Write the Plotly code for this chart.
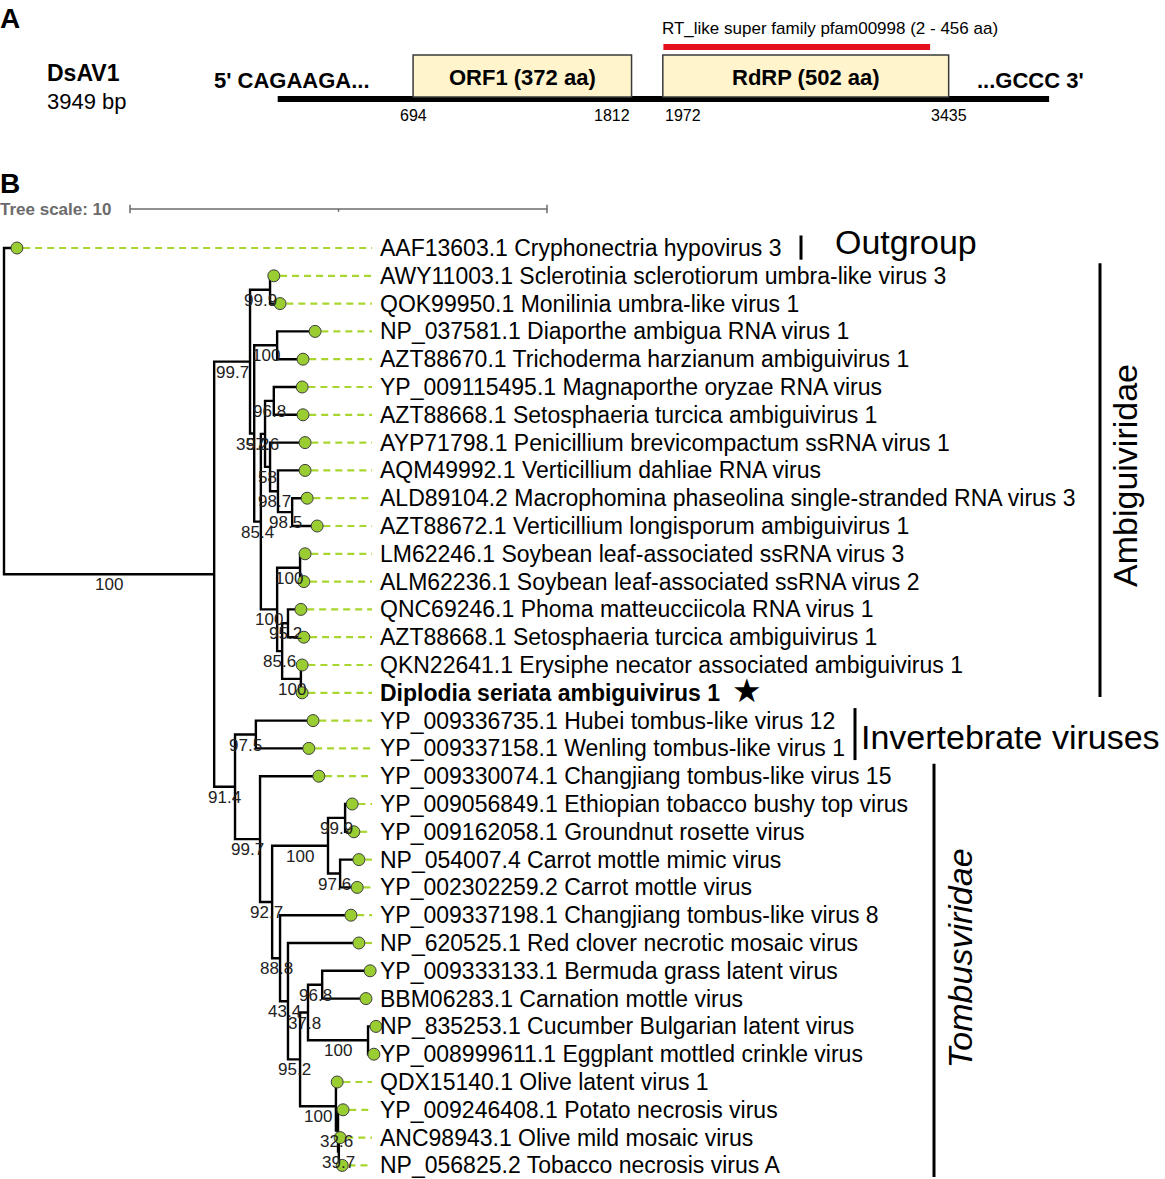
import plotly.graph_objects as go

# ---------------- B: phylogeny ----------------
# Newick: branch lengths in tree-scale units, internal labels = bootstrap support
newick = (
    "(t0:0.31,"
    "(("
    "(t1:0.09,t2:0.24)99.9:0.48,"
    "((t3:0.91,t4:0.62)100:0.55,"
    "(((t5:0.68,t6:0.70)96.8:0.21,(t7:0.84,(t8:0.65,(t9:0.36,t10:0.60)98.5:0.34)98.7:0.19)58:0.12)97.6:0.10,"
    "((t11:0.12,t12:0.09)100:0.55,((t13:0.31,t14:0.38)95.2:0.14,(t15:0.03,t16:0.03)100:0.45)85.6:0.12)100:0.39"
    ")85.4:0.16)35.2:0.10)99.7:0.86,"
    "((t17:1.37,t18:1.27)97.5:0.50,"
    "(t19:1.41,"
    "(((t20:0.17,t21:0.21)99.9:0.41,(t22:0.45,t23:0.41)97.6:0.29)100:1.34,"
    "(t24:1.70,(t25:1.70,"
    "(((t26:1.15,t27:1.05)96.8:0.34,(t28:0.19,t29:0.14)100:1.44)37.8:0.19,"
    "(t30:0.03,(t31:0.12,(t32:0.03,t33:0.08)39.7:0.02)32.6:0.05)100:0.86"
    ")95.2:0.29)43.4:0.19)88.8:0.19)92.7:0.29)99.7:0.60)91.4:0.50)100:5.04);"
)

accessions = [
    "AAF13603.1", "AWY11003.1", "QOK99950.1", "NP_037581.1", "AZT88670.1",
    "YP_009115495.1", "AZT88668.1", "AYP71798.1", "AQM49992.1", "ALD89104.2",
    "AZT88672.1", "LM62246.1", "ALM62236.1", "QNC69246.1", "AZT88668.1",
    "QKN22641.1", "", "YP_009336735.1", "YP_009337158.1", "YP_009330074.1",
    "YP_009056849.1", "YP_009162058.1", "NP_054007.4", "YP_002302259.2",
    "YP_009337198.1", "NP_620525.1", "YP_009333133.1", "BBM06283.1",
    "NP_835253.1", "YP_008999611.1", "QDX15140.1", "YP_009246408.1",
    "ANC98943.1", "NP_056825.2",
]
species = [
    "Cryphonectria hypovirus 3",
    "Sclerotinia sclerotiorum umbra-like virus 3",
    "Monilinia umbra-like virus 1",
    "Diaporthe ambigua RNA virus 1",
    "Trichoderma harzianum ambiguivirus 1",
    "Magnaporthe oryzae RNA virus",
    "Setosphaeria turcica ambiguivirus 1",
    "Penicillium brevicompactum ssRNA virus 1",
    "Verticillium dahliae RNA virus",
    "Macrophomina phaseolina single-stranded RNA virus 3",
    "Verticillium longisporum ambiguivirus 1",
    "Soybean leaf-associated ssRNA virus 3",
    "Soybean leaf-associated ssRNA virus 2",
    "Phoma matteucciicola RNA virus 1",
    "Setosphaeria turcica ambiguivirus 1",
    "Erysiphe necator associated ambiguivirus 1",
    "Diplodia seriata ambiguivirus 1",
    "Hubei tombus-like virus 12",
    "Wenling tombus-like virus 1",
    "Changjiang tombus-like virus 15",
    "Ethiopian tobacco bushy top virus",
    "Groundnut rosette virus",
    "Carrot mottle mimic virus",
    "Carrot mottle virus",
    "Changjiang tombus-like virus 8",
    "Red clover necrotic mosaic virus",
    "Bermuda grass latent virus",
    "Carnation mottle virus",
    "Cucumber Bulgarian latent virus",
    "Eggplant mottled crinkle virus",
    "Olive latent virus 1",
    "Potato necrosis virus",
    "Olive mild mosaic virus",
    "Tobacco necrosis virus A",
]
query_leaf = 16

clade_names = ["Outgroup", "Ambiguiviridae", "Invertebrate viruses", "Tombusviridae"]
clade_first = [0, 1, 17, 19]
clade_last = [0, 16, 18, 33]
tree_scale = 10

# ---------------- A: genome map ----------------
virus_name = "DsAV1"
genome_len = 3949
orf_labels = ["ORF1 (372 aa)", "RdRP (502 aa)"]
orf_start = [694, 1972]
orf_end = [1812, 3435]
domain_aa = [2, 456]
domain_label = "RT_like super family pfam00998 (2 - 456 aa)"
end5 = "5' CAGAAGA..."
end3 = "...GCCC 3'"

# ---------------- page geometry ----------------
W, H = 1165, 1179
PPU, ROOT_PX = 41.7, 4          # px per tree unit, root position
ROW, TOP_PX = 27.8, 248         # px per leaf row, first leaf row
NT0_PX, PX_NT = 277.5, 0.19539  # genome map scale
FONT = "Liberation Sans, Arial, Helvetica, sans-serif"


def parse(s):
    s = s.replace(" ", "").rstrip(";")
    pos = 0

    def node():
        nonlocal pos
        n = {"children": [], "name": "", "len": 0.0}
        if s[pos] == "(":
            pos += 1
            n["children"].append(node())
            while s[pos] == ",":
                pos += 1
                n["children"].append(node())
            pos += 1
        st = pos
        while pos < len(s) and s[pos] not in ":,)":
            pos += 1
        n["name"] = s[st:pos]
        if pos < len(s) and s[pos] == ":":
            pos += 1
            st = pos
            while pos < len(s) and s[pos] not in ",)":
                pos += 1
            n["len"] = float(s[st:pos])
        return n

    return node()


def place(n, x0, parent_x):
    n["x"] = x0 + n["len"]
    n["px"] = parent_x
    if n["children"]:
        for c in n["children"]:
            place(c, n["x"], n["x"])
        n["y"] = (n["children"][0]["y"] + n["children"][-1]["y"]) / 2
    else:
        n["y"] = int(n["name"][1:])


def walk(n):
    yield n
    for c in n["children"]:
        yield from walk(c)


root = parse(newick)
place(root, 0.0, None)
nodes = list(walk(root))
leaves = sorted([n for n in nodes if not n["children"]], key=lambda n: n["y"])
inner = [n for n in nodes if n["children"]]

label_x = (378 - ROOT_PX) / PPU
dash_end = (372 - ROOT_PX) / PPU

fig = go.Figure()

# dashed leaf connectors
dx, dy = [], []
for lf in leaves:
    if lf["x"] + 0.15 < dash_end:
        dx += [lf["x"] + 0.15, dash_end, None]
        dy += [lf["y"], lf["y"], None]
fig.add_trace(go.Scatter(x=dx, y=dy, mode="lines", hoverinfo="skip",
                         line=dict(color="#a9d62e", width=2.2, dash="7px,5px")))

# rectangular branches
bx, by = [], []
for n in inner:
    a, b = n["children"][0], n["children"][-1]
    bx += [a["x"], n["x"], n["x"], b["x"], None]
    by += [a["y"], a["y"], b["y"], b["y"], None]
fig.add_trace(go.Scatter(x=bx, y=by, mode="lines", hoverinfo="skip",
                         line=dict(color="black", width=2.4)))

# leaf dots
fig.add_trace(go.Scatter(x=[lf["x"] for lf in leaves], y=[lf["y"] for lf in leaves],
                         mode="markers", hoverinfo="skip",
                         marker=dict(size=12, color="#9acd32",
                                     line=dict(color="#3d3d3d", width=1))))

ann = []
# leaf labels
for i, lf in enumerate(leaves):
    if i == query_leaf:
        txt = "<b>" + species[i] + "</b>"
    else:
        txt = accessions[i] + " " + species[i]
    ann.append(dict(x=label_x, y=lf["y"], text=txt, xanchor="left", yanchor="middle",
                    font=dict(size=23, color="black", family=FONT)))
ann.append(dict(x=730, y=leaves[query_leaf]["y"], xref="x2", yref="y", yshift=2,
                text="★", xanchor="left", yanchor="middle",
                font=dict(size=33, color="black", family="DejaVu Sans")))

# bootstrap values at branch midpoints
for n in inner:
    if n["name"] and n["px"] is not None:
        ann.append(dict(x=(n["px"] + n["x"]) / 2, y=n["y"] + 0.38, text=n["name"],
                        xanchor="center", yanchor="middle",
                        font=dict(size=17, color="#222", family=FONT)))

shapes = []
# clade bars and labels
bar_px = [801, 1100, 855, 934]
for k, name in enumerate(clade_names):
    y0 = clade_first[k] - 0.45
    y1 = clade_last[k] + 0.42
    if k == 1:
        y1 = clade_last[k] + 0.15
    shapes.append(dict(type="line", xref="x2", yref="y", x0=bar_px[k], x1=bar_px[k],
                       y0=y0, y1=y1, line=dict(color="black", width=3)))
mid = [(clade_first[k] + clade_last[k]) / 2 for k in range(4)]
ann.append(dict(x=833, y=mid[0] - 0.2, xref="x2", yref="y", text=clade_names[0],
                xanchor="left", yanchor="middle", font=dict(size=34, family=FONT, color="black")))
ann.append(dict(x=859, y=mid[2] + 0.1, xref="x2", yref="y", text=clade_names[2],
                xanchor="left", yanchor="middle", font=dict(size=34, family=FONT, color="black")))
ann.append(dict(x=1125, y=mid[1] - 0.3, xref="x2", yref="y", text=clade_names[1],
                textangle=-90, xanchor="center", yanchor="middle",
                font=dict(size=34, family=FONT, color="black")))
ann.append(dict(x=960, y=mid[3] - 0.45, xref="x2", yref="y", text="<i>" + clade_names[3] + "</i>",
                textangle=-90, xanchor="center", yanchor="middle",
                font=dict(size=34, family=FONT, color="black")))

# tree scale
sx0 = (130 - ROOT_PX) / PPU
sy = (209 - TOP_PX) / ROW
gray = "#6b6b6b"
shapes.append(dict(type="line", xref="x", yref="y", x0=sx0, x1=sx0 + tree_scale, y0=sy, y1=sy,
                   line=dict(color=gray, width=1.5)))
for xx, h in [(sx0, 0.15), (sx0 + tree_scale, 0.15)]:
    shapes.append(dict(type="line", xref="x", yref="y", x0=xx, x1=xx, y0=sy - h, y1=sy + h,
                       line=dict(color=gray, width=1.5)))
shapes.append(dict(type="line", xref="x", yref="y", x0=sx0 + tree_scale / 2, x1=sx0 + tree_scale / 2,
                   y0=sy, y1=sy + 0.1, line=dict(color=gray, width=1.5)))
ann.append(dict(x=0, y=209, xref="x2", yref="y2", xshift=-2, text="<b>Tree scale: %d</b>" % tree_scale,
                xanchor="left", yanchor="middle", font=dict(size=17, color=gray, family=FONT)))

# panel letters
for letter, yy in [("A", 18), ("B", 183)]:
    ann.append(dict(x=0, y=yy, xref="x2", yref="y2", xshift=-2, text="<b>%s</b>" % letter,
                    xanchor="left", yanchor="middle", font=dict(size=28, color="black", family=FONT)))

# ---------------- genome map (x3 in nt) ----------------
shapes.append(dict(type="line", xref="x3", yref="y2", x0=1, x1=genome_len, y0=99, y1=99,
                   line=dict(color="black", width=6)))
for k in range(len(orf_labels)):
    shapes.append(dict(type="rect", xref="x3", yref="y2", x0=orf_start[k], x1=orf_end[k],
                       y0=55, y1=97, fillcolor="#fff4cc", line=dict(color="#3a3a3a", width=1.5)))
    ann.append(dict(x=(orf_start[k] + orf_end[k]) / 2, y=77, xref="x3", yref="y2",
                    text="<b>%s</b>" % orf_labels[k], xanchor="center", yanchor="middle",
                    font=dict(size=22, color="black", family=FONT)))
d0 = orf_start[1] + (domain_aa[0] - 1) * 3
d1 = orf_start[1] + domain_aa[1] * 3
shapes.append(dict(type="line", xref="x3", yref="y2", x0=d0, x1=d1, y0=47, y1=47,
                   line=dict(color="#e3101b", width=6)))
ann.append(dict(x=830, y=28, xref="x2", yref="y2", text=domain_label, xanchor="center",
                yanchor="middle", font=dict(size=17, color="black", family=FONT)))

pos_anchor = ["center", "right", "left", "center"]
pos_vals = [orf_start[0], orf_end[0], orf_start[1], orf_end[1]]
for v, anc in zip(pos_vals, pos_anchor):
    ann.append(dict(x=v, y=115, xref="x3", yref="y2", text=str(v), xanchor=anc,
                    yanchor="middle", font=dict(size=16, color="black", family=FONT)))

ann.append(dict(x=45, y=73, xref="x2", yref="y2", text="<b>%s</b>" % virus_name,
                xanchor="left", yanchor="middle", font=dict(size=23, color="black", family=FONT)))
ann.append(dict(x=45, y=101, xref="x2", yref="y2", text="%d bp" % genome_len,
                xanchor="left", yanchor="middle", font=dict(size=22, color="black", family=FONT)))
ann.append(dict(x=372, y=80, xref="x2", yref="y2", text="<b>%s</b>" % end5,
                xanchor="right", yanchor="middle", font=dict(size=22, color="black", family=FONT)))
ann.append(dict(x=975, y=80, xref="x2", yref="y2", text="<b>%s</b>" % end3,
                xanchor="left", yanchor="middle", font=dict(size=22, color="black", family=FONT)))

for a in ann:
    a.setdefault("showarrow", False)

# invisible traces to register the overlay axes
fig.add_trace(go.Scatter(x=[0], y=[0], xaxis="x2", yaxis="y2", mode="markers",
                         marker=dict(opacity=0), hoverinfo="skip"))
fig.add_trace(go.Scatter(x=[1], y=[0], xaxis="x3", yaxis="y2", mode="markers",
                         marker=dict(opacity=0), hoverinfo="skip"))

hidden = dict(visible=False, showgrid=False, zeroline=False, fixedrange=True)
fig.update_layout(
    width=W, height=H, margin=dict(l=0, r=0, t=0, b=0),
    paper_bgcolor="white", plot_bgcolor="white", showlegend=False,
    font=dict(family=FONT),
    xaxis=dict(range=[-ROOT_PX / PPU, (W - ROOT_PX) / PPU], domain=[0, 1], **hidden),
    yaxis=dict(range=[(H - TOP_PX) / ROW, -TOP_PX / ROW], domain=[0, 1], **hidden),
    xaxis2=dict(range=[0, W], overlaying="x", anchor="y2", **hidden),
    yaxis2=dict(range=[H, 0], overlaying="y", anchor="x2", **hidden),
    xaxis3=dict(range=[-NT0_PX / PX_NT, (W - NT0_PX) / PX_NT], overlaying="x", anchor="y2", **hidden),
    shapes=shapes, annotations=ann,
)

fig.write_html("out.html", config={"displayModeBar": False},
               post_script="document.body.style.margin='0';document.body.style.overflow='hidden';")
